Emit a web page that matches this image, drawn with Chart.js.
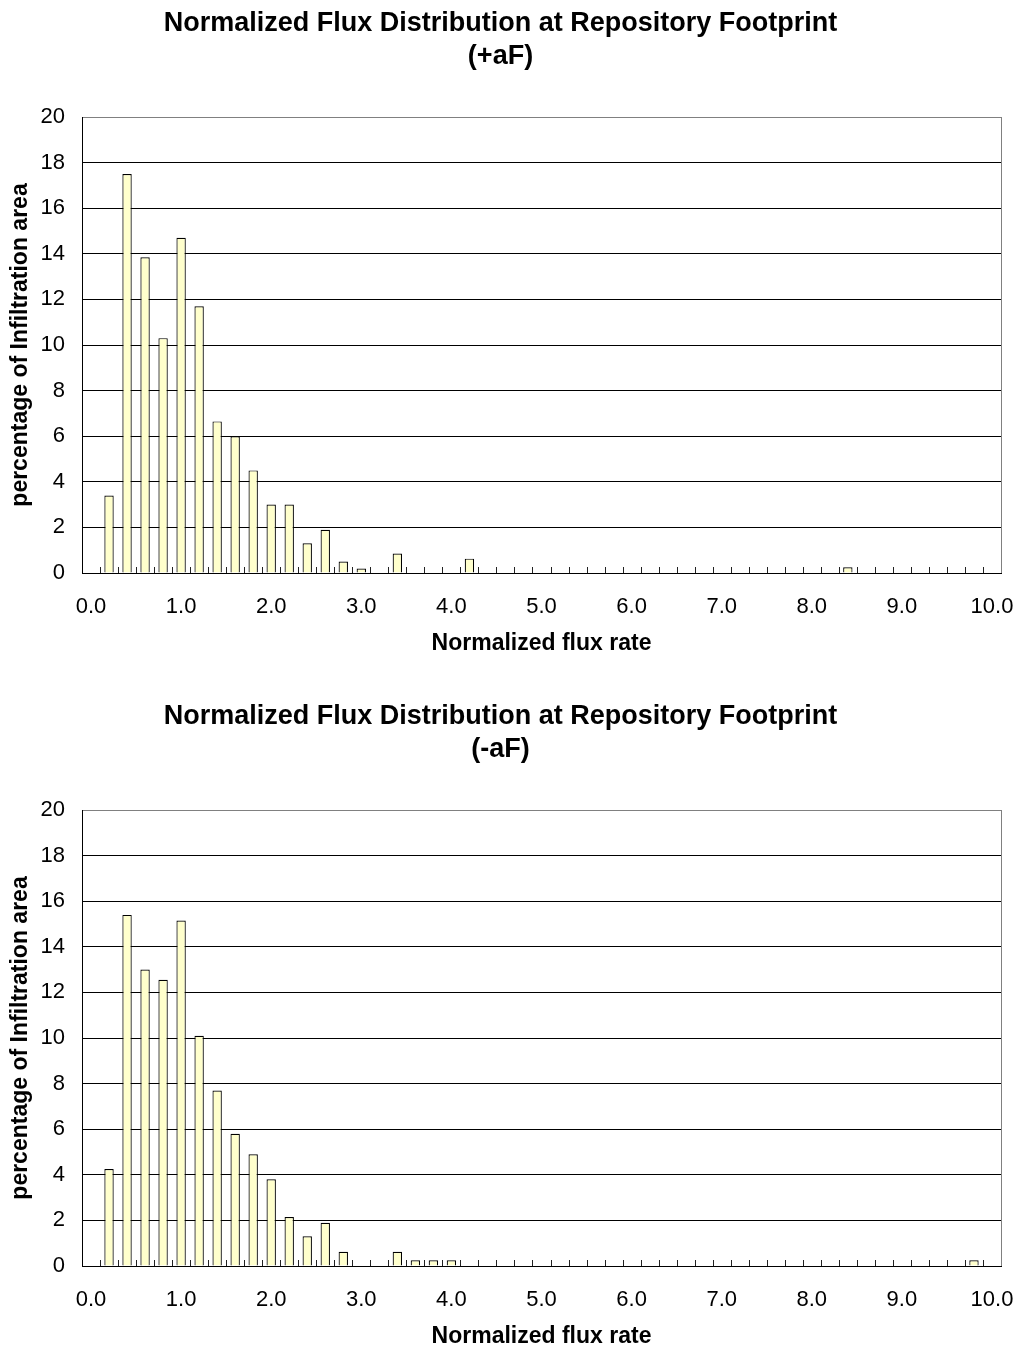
<!DOCTYPE html>
<html lang="en">
<head>
    <meta charset="UTF-8">
    <title>Normalized Flux Distribution</title>
    <script src="https://cdn.jsdelivr.net/npm/chart.js"></script>
    <style>
        body {
            margin: 0;
            background-color: #ffffff;
        }

        .panel {
            position: absolute;
            left: 0;
            width: 1021px;
            height: 657px;
        }

        #panel-plus { top: 0; }
        #panel-minus { top: 693px; }
    </style>
</head>
<body>
    <div class="panel" id="panel-plus"><canvas id="chartPlus" width="1021" height="657"></canvas></div>
    <div class="panel" id="panel-minus"><canvas id="chartMinus" width="1021" height="657"></canvas></div>

    <script>
        // bins of normalized flux rate (width 0.2)
        const fluxBins = [
            '0.0', '0.2', '0.4', '0.6', '0.8', '1.0', '1.2', '1.4', '1.6', '1.8',
            '2.0', '2.2', '2.4', '2.6', '2.8', '3.0', '3.2', '3.4', '3.6', '3.8',
            '4.0', '4.2', '4.4', '4.6', '4.8', '5.0', '5.2', '5.4', '5.6', '5.8',
            '6.0', '6.2', '6.4', '6.6', '6.8', '7.0', '7.2', '7.4', '7.6', '7.8',
            '8.0', '8.2', '8.4', '8.6', '8.8', '9.0', '9.2', '9.4', '9.6', '9.8',
            '10.0'
        ];

        // percentage of infiltration area, +aF case
        const plusAF = [
            0, 3.4, 17.5, 13.85, 10.3, 14.7, 11.7, 6.65, 6.0, 4.5,
            3.0, 3.0, 1.3, 1.9, 0.5, 0.2, 0, 0.85, 0, 0,
            0, 0.63, 0, 0, 0, 0, 0, 0, 0, 0,
            0, 0, 0, 0, 0, 0, 0, 0, 0, 0,
            0, 0, 0.25, 0, 0, 0, 0, 0, 0, 0,
            0
        ];

        // percentage of infiltration area, -aF case
        const minusAF = [
            0, 4.25, 15.4, 13.0, 12.55, 15.15, 10.1, 7.7, 5.8, 4.9,
            3.8, 2.15, 1.3, 1.9, 0.62, 0, 0, 0.62, 0.25, 0.25,
            0.25, 0, 0, 0, 0, 0, 0, 0, 0, 0,
            0, 0, 0, 0, 0, 0, 0, 0, 0, 0,
            0, 0, 0, 0, 0, 0, 0, 0, 0, 0.25,
            0
        ];

        const yTicks = [0, 2, 4, 6, 8, 10, 12, 14, 16, 18, 20];

        const FONT = 'Arial, "Liberation Sans", sans-serif';

        // small tick marks pointing up from the x axis, between categories,
        // plus the grey right-hand frame line
        const innerTicks = {
            id: 'innerTicks',
            beforeDatasetsDraw(chart) {
                const x = chart.scales.x;
                const area = chart.chartArea;
                const ctx = chart.ctx;
                ctx.save();
                ctx.strokeStyle = '#222';
                ctx.lineWidth = 1;
                ctx.beginPath();
                for (let i = 1; i < fluxBins.length; i++) {
                    const px = Math.round((x.getPixelForValue(i - 1) + x.getPixelForValue(i)) / 2) + 0.5;
                    ctx.moveTo(px, area.bottom);
                    ctx.lineTo(px, area.bottom - 6);
                }
                ctx.stroke();
                ctx.restore();
            },
            afterDraw(chart) {
                const area = chart.chartArea;
                const ctx = chart.ctx;
                ctx.save();
                ctx.strokeStyle = '#808080';
                ctx.lineWidth = 1;
                ctx.beginPath();
                ctx.moveTo(Math.round(area.right) + 0.5, area.top);
                ctx.lineTo(Math.round(area.right) + 0.5, area.bottom);
                ctx.stroke();
                ctx.restore();
            }
        };

        function makeChart(canvasId, caseLabel, values) {
            const ctx = document.getElementById(canvasId).getContext('2d');
            return new Chart(ctx, {
                type: 'bar',
                data: {
                    labels: fluxBins,
                    datasets: [{
                        data: values,
                        backgroundColor: '#FFFFCC',
                        borderColor: '#000000',
                        borderWidth: c => (c.raw > 0 ? 1.2 : 0),
                        borderSkipped: 'bottom',
                        barPercentage: 0.52,
                        categoryPercentage: 1.0
                    }]
                },
                options: {
                    responsive: false,
                    animation: false,
                    layout: { padding: { left: 0, right: 20, top: 0, bottom: 0 } },
                    plugins: {
                        legend: { display: false },
                        tooltip: { enabled: false },
                        title: {
                            display: true,
                            text: ['Normalized Flux Distribution at Repository Footprint', caseLabel],
                            color: '#000',
                            font: { family: FONT, size: 27, weight: 'bold', lineHeight: '33px' },
                            padding: { top: 7, bottom: 44 }
                        }
                    },
                    scales: {
                        x: {
                            type: 'category',
                            offset: true,
                            afterFit: s => {
                                s.height = 84;
                                s.paddingLeft = 0;
                                s.paddingRight = 20;
                            },
                            grid: { display: false, drawTicks: false },
                            border: { display: true, color: '#000', width: 1 },
                            ticks: {
                                autoSkip: false,
                                maxRotation: 0,
                                padding: 21,
                                color: '#000',
                                font: { family: FONT, size: 22 },
                                callback: function (val, index) {
                                    return index % 5 === 0 ? this.getLabelForValue(val) : '';
                                }
                            },
                            title: {
                                display: true,
                                text: 'Normalized flux rate',
                                color: '#000',
                                font: { family: FONT, size: 23, weight: 'bold' },
                                padding: { top: 0, bottom: 0 }
                            }
                        },
                        y: {
                            min: yTicks[0],
                            max: yTicks[yTicks.length - 1],
                            afterFit: s => { s.width = 82; },
                            afterBuildTicks: s => { s.ticks = yTicks.map(v => ({ value: v })); },
                            grid: {
                                drawTicks: false,
                                color: c => (c.tick && c.tick.value === 20 ? '#808080' : '#000'),
                                lineWidth: 1
                            },
                            border: { display: true, color: '#000', width: 1 },
                            ticks: {
                                padding: 17,
                                color: '#000',
                                font: { family: FONT, size: 22 }
                            },
                            title: {
                                display: true,
                                text: 'percentage of Infiltration area',
                                color: '#000',
                                font: { family: FONT, size: 23, weight: 'bold' },
                                padding: { top: 7, bottom: 0 }
                            }
                        }
                    }
                },
                plugins: [innerTicks]
            });
        }

        makeChart('chartPlus', '(+aF)', plusAF);
        makeChart('chartMinus', '(-aF)', minusAF);
    </script>
</body>
</html>
